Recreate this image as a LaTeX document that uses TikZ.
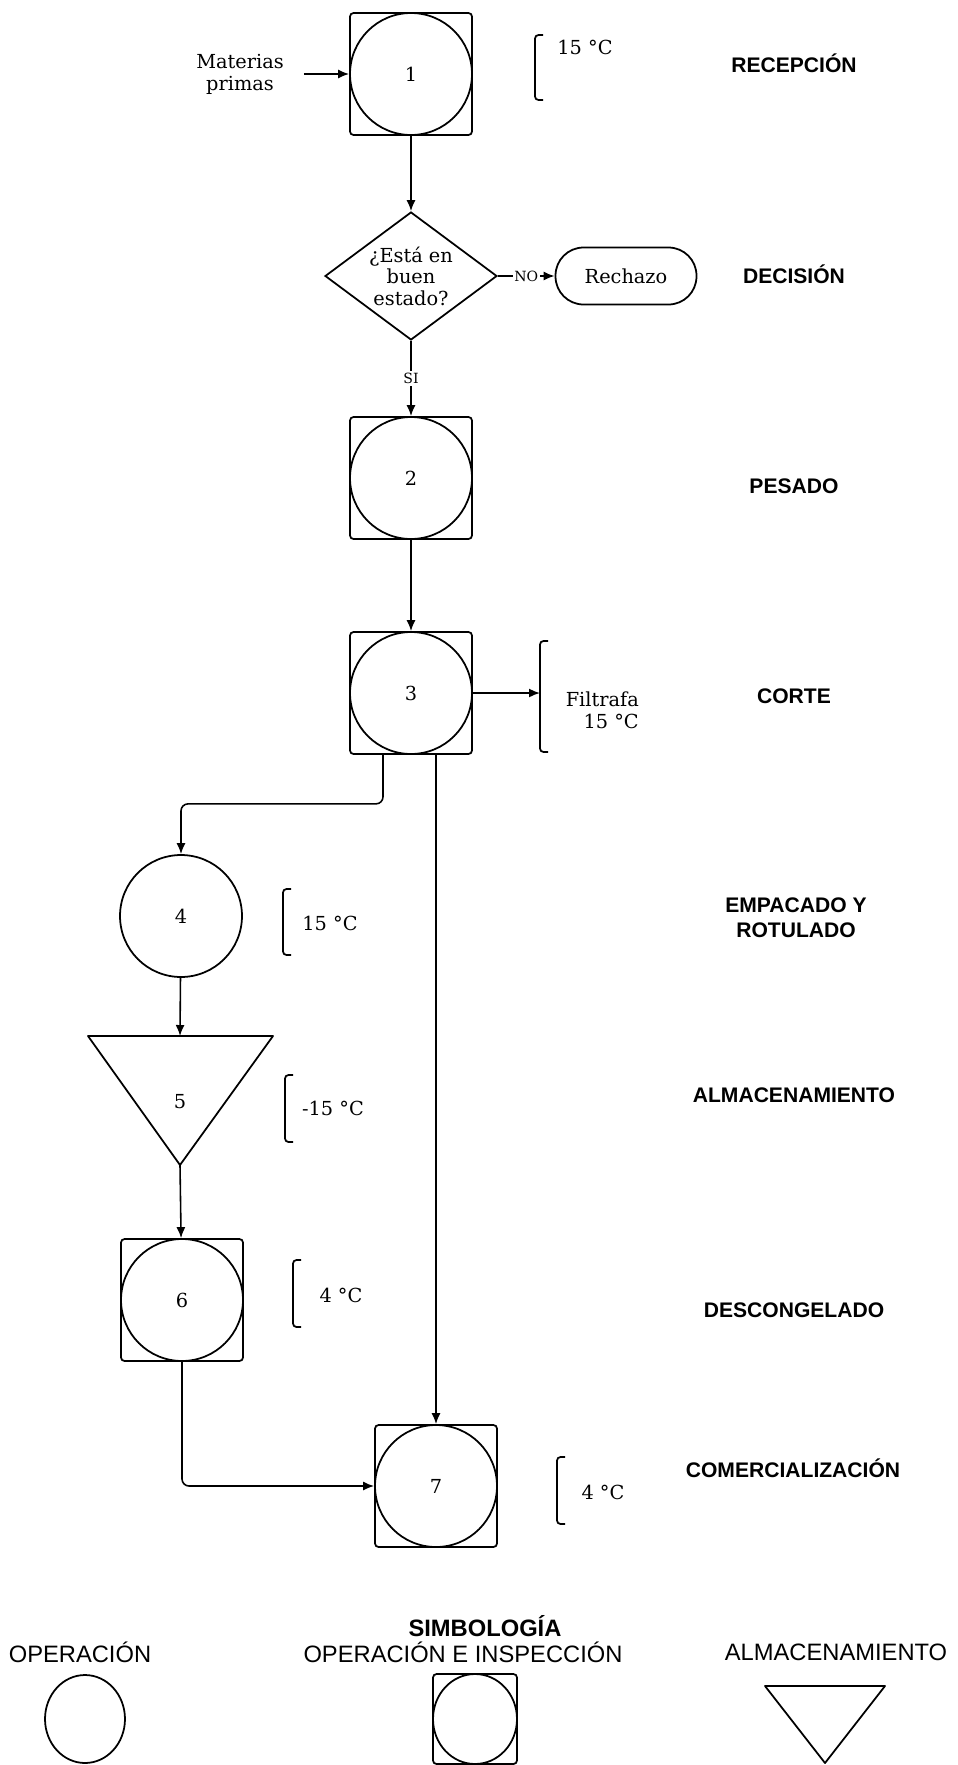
\documentclass[tikz,border=0pt]{standalone}
\usepackage{fontspec}
\setmainfont{DejaVu Serif}
\newfontfamily\labfont{Liberation Sans}
\usetikzlibrary{positioning,arrows.meta,shapes.geometric}

\tikzset{
  op/.style={draw, circle, line width=1pt, minimum size=2.44cm, inner sep=0pt, font=\fontsize{11}{13}\selectfont},
  opsq/.style={draw, rectangle, rounded corners=2pt, line width=1pt, minimum size=2.44cm, inner sep=0pt},
  dec/.style={draw, diamond, aspect=1.34, line width=1pt, minimum width=3.44cm, minimum height=2.56cm, inner sep=0pt, align=center, font=\fontsize{11}{12.2}\selectfont},
  term/.style={draw, rectangle, rounded corners=0.56cm, line width=1pt, minimum width=2.82cm, minimum height=1.14cm, font=\fontsize{11}{13}\selectfont},
  arr/.style={-{Latex[length=2.2mm,width=1.8mm]}, line width=0.9pt},
  lbl/.style={fill=white, inner sep=1pt, font=\fontsize{8}{9}\selectfont},
  temp/.style={font=\fontsize{11}{12.5}\selectfont},
  brk/.style={line width=1pt, rounded corners=2pt},
  etapa/.style={font=\labfont\bfseries\fontsize{12}{14}\selectfont, align=center},
  leyenda/.style={font=\labfont\fontsize{13.5}{15}\selectfont},
}

\begin{document}
\begin{tikzpicture}[x=0.02cm, y=-0.02cm]
  \useasboundingbox (0,0) rectangle (957,1765);

  % Recepcion
  \node[opsq] at (411,74) {};
  \node[op] (p1) at (411,74) {1};
  \node[temp, align=center] (mp) at (240,74) {Materias\\primas};
  \draw[arr] ([xshift=0.28cm]mp.east) -- (p1.west);
  \node[temp] (t1) at (585,47) {15 °C};
  \draw[brk] (543,35) -- (535,35) -- (535,100) -- (543,100);

  % Decision
  \node[dec] (d1) at (411,276) {¿Está en\\buen\\estado?};
  \node[term] (rz) at (626,276) {Rechazo};
  \draw[arr] (p1) -- (d1);
  \draw[arr] (d1) -- node[lbl]{NO} (rz);

  % Pesado
  \node[opsq] at (411,478) {};
  \node[op] (p2) at (411,478) {2};
  \draw[arr] (d1) -- node[lbl]{SI} (p2);

  % Corte
  \node[opsq] at (411,693) {};
  \node[op] (p3) at (411,693) {3};
  \draw[arr] (p2) -- (p3);
  \node[temp, align=right, anchor=east] (t3) at (645,710) {Filtrafa\\15 °C};
  \draw[brk] (548,641) -- (540,641) -- (540,752) -- (548,752);
  \coordinate (b3) at (540,693);
  \draw[arr] (p3) -- (b3);

  % Empacado y rotulado
  \node[op] (c4) at (181,916) {4};
  \draw[arr, rounded corners=4pt] ([xshift=-0.56cm]p3.south) -- ++(0,49) -| (c4.north);
  \node[temp] (t4) at (330,923) {15 °C};
  \draw[brk] (291,889) -- (283,889) -- (283,955) -- (291,955);

  % Almacenamiento
  \coordinate (a5) at (180,1036);
  \coordinate (a5tip) at (180,1165);
  \draw[line width=1pt, line join=round] (88,1036) -- (273,1036) -- (a5tip) -- cycle;
  \node[temp] (n5) at (180,1102) {5};
  \draw[arr] (c4) -- (a5);
  \node[temp] (t5) at (333,1108) {-15 °C};
  \draw[brk] (293,1075) -- (285,1075) -- (285,1142) -- (293,1142);

  % Descongelado
  \node[opsq] at (182,1300) {};
  \node[op] (p6) at (182,1300) {6};
  \draw[arr] (a5tip) -- (p6);
  \node[temp] (t6) at (341,1295) {4 °C};
  \draw[brk] (301,1260) -- (293,1260) -- (293,1327) -- (301,1327);

  % Comercializacion
  \node[opsq] at (436,1486) {};
  \node[op] (p7) at (436,1486) {7};
  \draw[arr] (p3.south -| p7.north) -- (p7);
  \draw[arr, rounded corners=4pt] (p6) |- (p7);
  \node[temp] (t7) at (603,1492) {4 °C};
  \draw[brk] (565,1457) -- (557,1457) -- (557,1524) -- (565,1524);

  % Etapas
  \node[etapa] (e1) at (794,63) {RECEPCIÓN};
  \node[etapa] (e2) at (794,274) {DECISIÓN};
  \node[etapa] (e3) at (794,486) {PESADO};
  \node[etapa] (e4) at (794,696) {CORTE};
  \node[etapa] (e5) at (796,918) {EMPACADO Y\\ROTULADO};
  \node[etapa] (e6) at (794,1095) {ALMACENAMIENTO};
  \node[etapa] (e7) at (794,1310) {DESCONGELADO};
  \node[etapa] (e8) at (793,1468) {COMERCIALIZACIÓN};

  % Simbologia
  \node[leyenda, font=\labfont\bfseries\fontsize{13.5}{15}\selectfont] (sim) at (485,1626) {SIMBOLOGÍA};
  \node[leyenda] (l1) at (80,1652) {OPERACIÓN};
  \node[leyenda] (l2) at (463,1652) {OPERACIÓN E INSPECCIÓN};
  \node[leyenda] (l3) at (836,1652) {ALMACENAMIENTO};
  \node[draw, ellipse, line width=1pt, minimum width=1.6cm, minimum height=1.76cm] (s1) at (85,1719) {};
  \node[opsq, minimum width=1.68cm, minimum height=1.8cm] at (475,1719) {};
  \node[draw, ellipse, line width=1pt, minimum width=1.68cm, minimum height=1.8cm] (s2) at (475,1719) {};
  \draw[line width=1pt, line join=round] (765,1686) -- (885,1686) -- (825,1763) -- cycle;
\end{tikzpicture}
\end{document}
